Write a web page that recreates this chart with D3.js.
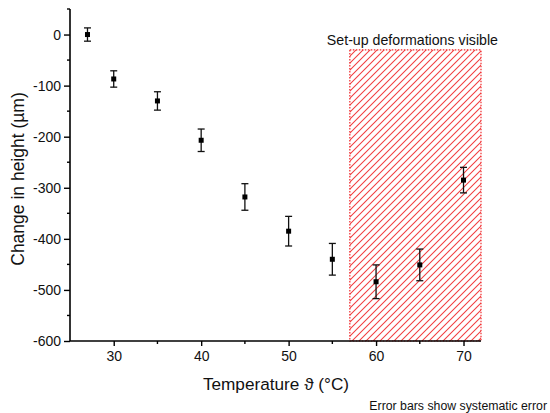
<!DOCTYPE html>
<html>
<head>
<meta charset="utf-8">
<script src="https://cdn.jsdelivr.net/npm/d3@7"></script>
<style>
  html, body { margin: 0; padding: 0; background: #fff; }
  svg { display: block; font-family: "Liberation Sans", Arial, sans-serif; }
</style>
</head>
<body>
<svg id="chart" width="550" height="413"></svg>
<script>
// Measured height change versus temperature
const temperatures = [27, 30, 35, 40, 45, 50, 55, 60, 65, 70];
const heightChange = [0, -87, -130, -207, -318, -385, -440, -484, -451, -285];
const systematicError = [13, 16, 18, 22, 26, 29, 31, 33, 31, 25];

// Region where the set-up itself deformed
const deformRegion = { x0: 57, x1: 72, y0: -600, y1: -30 };

const xTicks = [30, 40, 50, 60, 70];
const xMinorTicks = [35, 45, 55, 65];
const yTicks = [0, -100, -200, -300, -400, -500, -600];
const yMinorTicks = [50, -50, -150, -250, -350, -450, -550];

const svg = d3.select("#chart");
const red = "#f0282a";

const x = d3.scaleLinear().domain([25, 72]).range([70, 481]);
const y = d3.scaleLinear().domain([-600, 50]).range([341, 9]);

// hatch pattern for the deformation region: "/" diagonals
const defs = svg.append("defs");
const pat = defs.append("pattern")
  .attr("id", "hatch")
  .attr("patternUnits", "userSpaceOnUse")
  .attr("width", 7).attr("height", 7);
pat.append("path")
  .attr("d", "M-1,8 L8,-1 M-1,1 L1,-1 M6,8 L8,6")
  .attr("stroke", red).attr("stroke-width", 1.05)
  .attr("stroke-opacity", 0.9)
  .attr("fill", "none");

svg.append("rect")
  .attr("x", x(deformRegion.x0))
  .attr("y", y(deformRegion.y1))
  .attr("width", x(deformRegion.x1) - x(deformRegion.x0))
  .attr("height", y(deformRegion.y0) - y(deformRegion.y1))
  .attr("fill", "url(#hatch)")
  .attr("stroke", red)
  .attr("stroke-width", 1.2)
  .attr("stroke-dasharray", "1.5,1.5");

svg.append("text")
  .attr("x", (x(deformRegion.x0) + x(deformRegion.x1)) / 2 - 3)
  .attr("y", y(deformRegion.y1) - 5)
  .attr("text-anchor", "middle")
  .attr("font-size", 14.2)
  .attr("fill", "#111")
  .text("Set-up deformations visible");

// axes (hyphen used for negative tick labels)
const fmt = d => String(d);
const xAxis = d3.axisBottom(x).tickValues(xTicks).tickSize(5).tickPadding(5).tickFormat(fmt);
const yAxis = d3.axisLeft(y).tickValues(yTicks).tickSize(6).tickPadding(3).tickFormat(fmt);

const gx = svg.append("g").attr("transform", `translate(0,${y(-600)})`).call(xAxis);
gx.select(".domain").attr("stroke-width", 1.6).attr("d", `M${x(25)},0H${x(72)}`);
gx.selectAll(".tick line").attr("stroke-width", 1.4);
gx.selectAll(".tick text").attr("font-size", 14).attr("fill", "#111")
  .attr("font-family", "Liberation Sans, Arial, sans-serif");
gx.selectAll(".minor").data(xMinorTicks).enter().append("line")
  .attr("x1", d => x(d)).attr("x2", d => x(d))
  .attr("y1", 0).attr("y2", 3).attr("stroke", "#000").attr("stroke-width", 1.4);

const gy = svg.append("g").attr("transform", `translate(${x(25)},0)`).call(yAxis);
gy.select(".domain").attr("stroke-width", 1.6).attr("d", `M0,${y(-600)}V${y(50)}`);
gy.selectAll(".tick line").attr("stroke-width", 1.4);
gy.selectAll(".tick text").attr("font-size", 14).attr("fill", "#111")
  .attr("font-family", "Liberation Sans, Arial, sans-serif");
gy.selectAll(".minor").data(yMinorTicks).enter().append("line")
  .attr("y1", d => y(d)).attr("y2", d => y(d))
  .attr("x1", 0).attr("x2", -3).attr("stroke", "#000").attr("stroke-width", 1.4);

// error bars and markers
const data = temperatures.map((t, i) => ({ t, h: heightChange[i], e: systematicError[i] }));
const eb = svg.append("g").attr("stroke", "#111").attr("stroke-width", 1.3);
eb.selectAll(".v").data(data).enter().append("line")
  .attr("x1", d => x(d.t)).attr("x2", d => x(d.t))
  .attr("y1", d => y(d.h + d.e)).attr("y2", d => y(d.h - d.e));
eb.selectAll(".capTop").data(data).enter().append("line")
  .attr("x1", d => x(d.t) - 3.5).attr("x2", d => x(d.t) + 3.5)
  .attr("y1", d => y(d.h + d.e)).attr("y2", d => y(d.h + d.e));
eb.selectAll(".capBot").data(data).enter().append("line")
  .attr("x1", d => x(d.t) - 3.5).attr("x2", d => x(d.t) + 3.5)
  .attr("y1", d => y(d.h - d.e)).attr("y2", d => y(d.h - d.e));

svg.append("g").selectAll("rect").data(data).enter().append("rect")
  .attr("x", d => x(d.t) - 2.5).attr("y", d => y(d.h) - 2.5)
  .attr("width", 5).attr("height", 5).attr("fill", "#000");

// axis titles
svg.append("text")
  .attr("x", 276)
  .attr("y", 390)
  .attr("text-anchor", "middle")
  .attr("font-size", 17.2)
  .attr("fill", "#111")
  .text("Temperature ϑ (°C)");

svg.append("text")
  .attr("transform", `translate(24,${(y(50) + y(-600)) / 2 + 4}) rotate(-90)`)
  .attr("text-anchor", "middle")
  .attr("font-size", 17.5)
  .attr("fill", "#111")
  .text("Change in height (µm)");

svg.append("text")
  .attr("x", 547)
  .attr("y", 410)
  .attr("text-anchor", "end")
  .attr("font-size", 12.3)
  .attr("fill", "#111")
  .text("Error bars show systematic error");
</script>
</body>
</html>
